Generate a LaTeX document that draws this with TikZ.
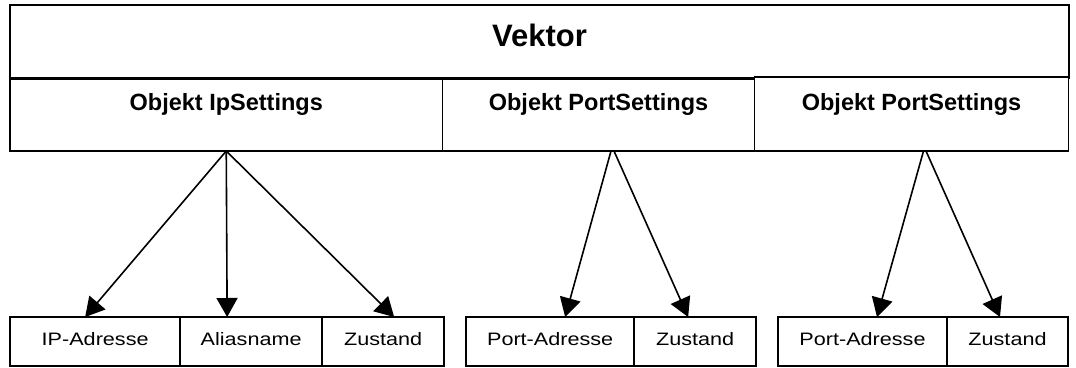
\documentclass[tikz,border=0pt]{standalone}
\usepackage{fontspec}
\setmainfont{Liberation Sans}
\newfontfamily\widefont[FakeStretch=1.2]{Liberation Sans}
\usetikzlibrary{arrows.meta}

\tikzset{
  cell/.style={draw=black, line width=1.8pt, fill=white, inner sep=0pt,
    outer sep=0pt, anchor=north west, align=center},
  headcell/.style={cell, font=\bfseries\fontsize{31}{31}\selectfont,
    text height=41.7pt, text depth=31.6pt},
  objcell/.style={cell, font=\bfseries\fontsize{23.5}{24}\selectfont,
    text depth=40.3pt},
  leafcell/.style={cell, font=\widefont\fontsize{18}{18}\selectfont,
    text height=28pt, text depth=21pt},
  link/.style={line width=1.6pt, -{Triangle[length=19pt, width=21pt]}}
}

\begin{document}
\begin{tikzpicture}[x=1pt, y=-1pt]
  \useasboundingbox (0,0) rectangle (1076,367);

  % container
  \node[headcell, minimum width=1059pt] (vec) at (10,5) {Vektor};

  % objects held by the vector
  \node[objcell, minimum width=432.5pt, text height=31.7pt] (ip)  at (10,79)    {Objekt IpSettings};
  \node[objcell, minimum width=312pt,   text height=31.7pt] (ps1) at (442.5,79) {Objekt PortSettings};
  \node[objcell, minimum width=314pt,   text height=33.7pt] (ps2) at (754.5,77) {Objekt PortSettings};

  % fields of IpSettings
  \node[leafcell, minimum width=170.3pt] (ipaddr) at (10,317)    {IP-Adresse};
  \node[leafcell, minimum width=141.7pt] (alias)  at (180.3,317) {Aliasname};
  \node[leafcell, minimum width=122.3pt] (ipst)   at (322,317)   {Zustand};

  % fields of the first PortSettings
  \node[leafcell, minimum width=168.3pt] (paddr1) at (466,317)   {Port-Adresse};
  \node[leafcell, minimum width=121.7pt] (pst1)   at (634.3,317) {Zustand};

  % fields of the second PortSettings
  \node[leafcell, minimum width=168.4pt] (paddr2) at (778.3,317) {Port-Adresse};
  \node[leafcell, minimum width=121.6pt] (pst2)   at (946.7,317) {Zustand};

  % connectors
  \draw[link] (ip.south) -- ([xshift=-10pt]ipaddr.north);
  \draw[link] (ip.south) -- ([xshift=-24pt]alias.north);
  \draw[link] (ip.south) -- ([xshift=11pt]ipst.north);

  \draw[link] ([xshift=12.5pt]ps1.south) -- ([xshift=15pt]paddr1.north);
  \draw[link] ([xshift=15.5pt]ps1.south) -- ([xshift=-7pt]pst1.north);

  \draw[link] ([xshift=12pt]ps2.south) -- ([xshift=14.5pt]paddr2.north);
  \draw[link] ([xshift=14.5pt]ps2.south) -- ([xshift=-7.5pt]pst2.north);
\end{tikzpicture}
\end{document}
